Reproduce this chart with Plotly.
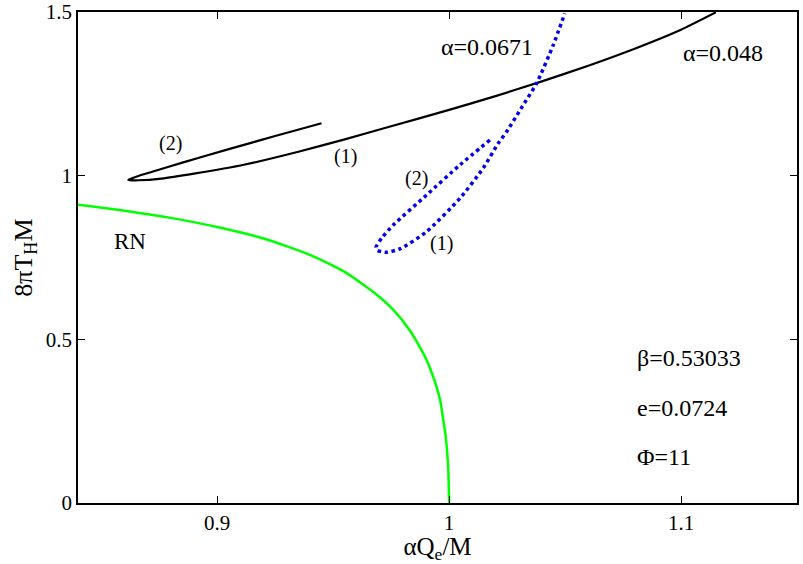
import plotly.graph_objects as go

# RN curve (green)
rn_x = [0.84, 0.86, 0.88, 0.90, 0.92, 0.94, 0.955, 0.968, 0.976, 0.983, 0.9875, 0.9903, 0.9925, 0.9946, 0.9962, 0.9975, 0.9985, 0.9992, 0.9997, 1.0]
rn_y = [0.911, 0.893, 0.871, 0.843, 0.808, 0.758, 0.706, 0.641, 0.590, 0.528, 0.475, 0.437, 0.398, 0.355, 0.312, 0.2536, 0.205, 0.152, 0.095, 0.0]

# alpha = 0.048 (black solid), branch (2) end -> tip -> branch (1)
a048_x = [0.945, 0.925, 0.905, 0.885, 0.872, 0.866, 0.8625, 0.8617, 0.866, 0.876, 0.890, 0.912, 0.935, 0.955, 0.975, 1.000, 1.020, 1.040, 1.060, 1.080, 1.100, 1.115]
a048_y = [1.160, 1.121, 1.081, 1.040, 1.012, 0.999, 0.990, 0.987, 0.986, 0.991, 1.006, 1.034, 1.073, 1.111, 1.151, 1.201, 1.243, 1.288, 1.336, 1.388, 1.446, 1.499]

# alpha = 0.0671 (blue dotted), branch (2) end -> tip -> branch (1)
a0671_x = [1.0176, 1.0047, 0.9903, 0.9759, 0.9710, 0.9685, 0.9690, 0.9730, 0.9790, 0.9903, 1.0047, 1.0147, 1.0212, 1.0248, 1.0310, 1.0377, 1.0449, 1.0499]
a0671_y = [1.109, 1.033, 0.941, 0.849, 0.810, 0.782, 0.772, 0.766, 0.777, 0.829, 0.931, 1.023, 1.099, 1.134, 1.205, 1.282, 1.399, 1.496]

x_ticks = [0.9, 1.0, 1.1]
x_ticklabels = ["0.9", "1", "1.1"]
y_ticks = [0, 0.5, 1.0, 1.5]
y_ticklabels = ["0", "0.5", "1", "1.5"]

FONT = "Liberation Serif, Times New Roman, serif"

fig = go.Figure()
fig.add_trace(go.Scatter(x=rn_x, y=rn_y, mode="lines", line=dict(color="#00ff00", width=2.5, shape="spline", smoothing=0.6), showlegend=False))
fig.add_trace(go.Scatter(x=a048_x, y=a048_y, mode="lines", line=dict(color="black", width=2.2, shape="spline", smoothing=0.6), showlegend=False))
fig.add_trace(go.Scatter(x=a0671_x, y=a0671_y, mode="lines", line=dict(color="#0000ee", width=3.5, dash="dot", shape="spline", smoothing=0.6), showlegend=False))

annots = [
    (0.8797, 1.099, "(2)", 20),
    (0.9555, 1.060, "(1)", 20),
    (0.9860, 0.992, "(2)", 20),
    (0.9968, 0.793, "(1)", 20),
    (1.0163, 1.393, "α=0.0671", 24),
    (1.1181, 1.375, "α=0.048", 24),
    (0.8624, 0.798, "RN", 23),
]
annotations = [dict(x=x, y=y, text=t, showarrow=False, font=dict(family=FONT, size=s, color="black"), xanchor="center", yanchor="middle") for x, y, t, s in annots]
for yy, t in [(0.442, "β=0.53033"), (0.290, "e=0.0724"), (0.1415, "Φ=11")]:
    annotations.append(dict(x=1.0802, y=yy, text=t, showarrow=False, font=dict(family=FONT, size=24, color="black"), xanchor="left", yanchor="middle"))

fig.update_layout(
    width=803, height=564,
    margin=dict(l=78, r=6, t=12, b=61),
    paper_bgcolor="white", plot_bgcolor="white",
    font=dict(family=FONT, size=21, color="black"),
    annotations=annotations,
    xaxis=dict(range=[0.84, 1.15], tickvals=x_ticks, ticktext=x_ticklabels, ticks="inside", ticklen=7, tickcolor="black",
               tickfont=dict(size=21), automargin=False,
               showline=True, linecolor="black", linewidth=1.5, mirror="ticks", showgrid=False, zeroline=False,
               title=dict(text="αQ<sub>e</sub>/M", font=dict(size=25), standoff=6)),
    yaxis=dict(range=[0, 1.5], tickvals=y_ticks, ticktext=y_ticklabels, ticks="inside", ticklen=7, tickcolor="black",
               tickfont=dict(size=21), automargin=False,
               showline=True, linecolor="black", linewidth=1.5, mirror="ticks", showgrid=False, zeroline=False,
               title=dict(text="8πT<sub>H</sub>M", font=dict(size=26), standoff=6)),
)

fig.write_html("out.html", config={"displayModeBar": False}, post_script="document.body.style.margin='0';")
